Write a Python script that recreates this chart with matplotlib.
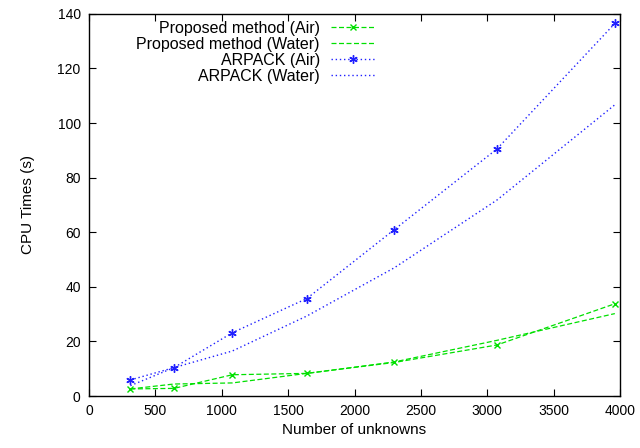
import numpy as np
import matplotlib.pyplot as plt
plt.rcParams["font.family"] = "sans-serif"
plt.rcParams["font.sans-serif"] = ["Liberation Sans", "Arial", "DejaVu Sans"]

# ============================================================
# Data
# ============================================================
unknowns = [312, 640, 1080, 1640, 2300, 3072, 3960]
prop_air = [2.6, 2.8, 7.8, 8.3, 12.3, 18.7, 33.8]
prop_water = [2.6, 4.4, 4.8, 8.3, 12.5, 20.4, 30.2]
arpack_air = [5.9, 10.4, 23.2, 35.7, 61.0, 90.5, 136.5]
arpack_water = [3.8, 10.4, 16.5, 29.3, 47.0, 71.8, 106.7]

green = '#00e000'
blue = '#2020ff'

fig = plt.figure(figsize=(6.4, 4.48), dpi=100, facecolor='white')
ax = fig.add_axes([0.139, 0.116, 0.830, 0.853])

ax.plot(unknowns, prop_air, color=green, ls=(0, (4, 2)), lw=0.9,
        marker='x', ms=5, mew=1, label='Proposed method (Air)')
ax.plot(unknowns, prop_water, color=green, ls=(0, (4, 2)), lw=0.9,
        label='Proposed method (Water)')
ax.plot(unknowns, arpack_air, color=blue, ls=(0, (1, 2)), lw=1.0,
        marker=(6, 2, 0), ms=6, mew=1, label='ARPACK (Air)')
ax.plot(unknowns, arpack_water, color=blue, ls=(0, (1, 2)), lw=1.0,
        label='ARPACK (Water)')

ax.set_xlim(0, 4000)
ax.set_ylim(0, 140)
ax.set_xticks(np.arange(0, 4001, 500))
ax.set_yticks(np.arange(0, 141, 20))
ax.tick_params(direction='in', top=True, right=True, labelsize=10,
               length=5, width=0.8, pad=6)
for s in ax.spines.values():
    s.set_linewidth(1.0)

ax.set_xlabel('Number of unknowns', fontsize=11, labelpad=3)
ax.set_ylabel('CPU Times (s)', fontsize=11, labelpad=16)

# gnuplot-style key: labels right-aligned, sample line on the right
leg = ax.legend(loc='upper right', bbox_to_anchor=(0.540, 0.982),
                frameon=False, markerfirst=False, fontsize=11.5,
                handlelength=2.8, handletextpad=0.7, labelspacing=0.06,
                borderpad=0.0, borderaxespad=0.0)

fig.savefig('out.png', dpi=100, facecolor='white')
